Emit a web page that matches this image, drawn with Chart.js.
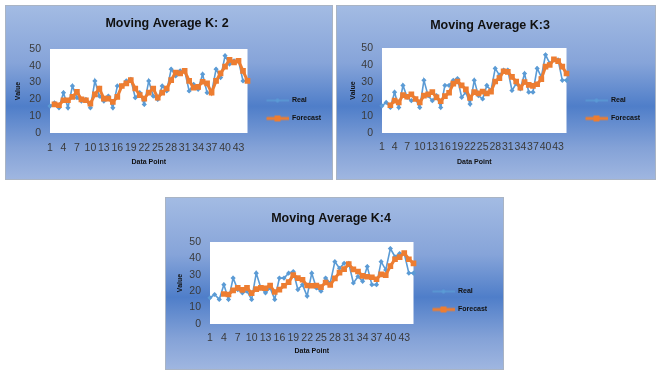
<!DOCTYPE html>
<html>
<head>
<meta charset="utf-8">
<script src="https://cdn.jsdelivr.net/npm/chart.js@4"></script>
<style>
    body { margin: 0; background: #fff; width: 662px; height: 376px; position: relative; overflow: hidden; }
    .panel {
        position: absolute;
        box-sizing: border-box;
        border: 1px solid #a9b4c4;
        background: linear-gradient(to bottom, #a3bbe3 0%, #86a4d9 33%, #4f7ec9 58%, #84a2d7 82%, #9fb6e0 100%);
    }
    .panel canvas { position: absolute; left: 0; top: 0; }
</style>
</head>
<body>
<div class="panel" style="left:5px;top:5px;width:328px;height:175px;"><canvas id="chartK2" width="326" height="173"></canvas></div>
<div class="panel" style="left:336px;top:5px;width:320px;height:175px;"><canvas id="chartK3" width="318" height="173"></canvas></div>
<div class="panel" style="left:165px;top:197px;width:339px;height:173px;"><canvas id="chartK4" width="337" height="171"></canvas></div>
<script>
    // 데이터 포인트 (1..45)
    var pointLabels = [1, 2, 3, 4, 5, 6, 7, 8, 9, 10, 11, 12, 13, 14, 15, 16, 17, 18, 19, 20,
        21, 22, 23, 24, 25, 26, 27, 28, 29, 30, 31, 32, 33, 34, 35, 36, 37, 38, 39, 40,
        41, 42, 43, 44, 45];

    var realValues = [16, 18, 15, 24, 15, 28, 21, 19, 20, 15, 31, 22, 19, 22, 15, 28, 28, 31, 32, 21,
        24, 17, 31, 22, 20, 28, 25, 38, 34, 37, 37, 25, 29, 26, 35, 24, 24, 38, 33, 46,
        41, 43, 43, 31, 31];

    var forecastK2 = [null, 17, 16.5, 19.5, 19.5, 21.5, 24.5, 20, 19.5, 17.5, 23, 26.5, 20.5, 20.5, 18.5,
        21.5, 28, 29.5, 31.5, 26.5, 22.5, 20.5, 24, 26.5, 21, 24, 26.5, 31.5, 36, 35.5,
        37, 31, 27, 27.5, 30.5, 29.5, 24, 31, 35.5, 39.5, 43.5, 42, 43, 37, 31];

    var forecastK3 = [null, null, 16.3, 19, 18, 22.3, 21.3, 22.7, 20, 18, 22, 22.7, 24, 21, 18.7,
        21.7, 23.7, 29, 30.3, 28, 25.7, 20.7, 24, 23.3, 24.3, 23.3, 24.3, 30.3, 32.3, 36.3,
        36, 33, 30.3, 26.7, 30, 28.3, 27.7, 28.7, 31.7, 39, 40, 43.3, 42.3, 39, 35];

    var forecastK4 = [null, null, null, 18.3, 18, 20.5, 22, 20.8, 22, 18.8, 21.3, 22, 21.8, 23.5, 19.5,
        21, 23.3, 25.5, 29.8, 28, 27, 23.5, 23.3, 23.5, 22.5, 25.3, 23.8, 27.8, 31.3, 33.5,
        36.5, 33.3, 32, 29.3, 28.8, 28.5, 27.3, 30.3, 29.8, 35.3, 39.5, 40.8, 43.3, 39.5, 37];

    var chartTitles = ['Moving Average K: 2', 'Moving Average K:3', 'Moving Average K:4'];
    var seriesNames = ['Real', 'Forecast'];
    var yTicks = [0, 10, 20, 30, 40, 50];

    var realColor = '#5b9bd5';
    var forecastColor = '#ed7d31';

    Chart.defaults.font.family = '"Liberation Sans", Arial, sans-serif';
    Chart.defaults.color = '#333';

    // 플롯 영역 흰색 배경
    var plotAreaFill = {
        id: 'plotAreaFill',
        beforeDraw: function (chart) {
            var a = chart.chartArea;
            var ctx = chart.ctx;
            ctx.save();
            ctx.fillStyle = '#ffffff';
            ctx.fillRect(a.left, a.top, a.right - a.left, a.bottom - a.top);
            ctx.restore();
        },
    };

    // 범례 아이콘 (선 + 마커)
    function makeLegendIcon(color, lineWidth, marker) {
        var c = document.createElement('canvas');
        c.width = 30;
        c.height = 10;
        var g = c.getContext('2d');
        g.strokeStyle = color;
        g.lineWidth = lineWidth;
        g.beginPath();
        g.moveTo(8, 5);
        g.lineTo(30, 5);
        g.stroke();
        g.fillStyle = color;
        if (marker === 'square') {
            g.fillRect(16, 2, 6, 6);
        } else {
            g.beginPath();
            g.moveTo(19, 2.5);
            g.lineTo(21.5, 5);
            g.lineTo(19, 7.5);
            g.lineTo(16.5, 5);
            g.closePath();
            g.fill();
        }
        return c;
    }
    var legendIcons = [
        makeLegendIcon(realColor, 1.5, 'diamond'),
        makeLegendIcon(forecastColor, 3, 'square'),
    ];

    function createChart(canvasId, title, forecast, lay) {
        var ctx = document.getElementById(canvasId).getContext('2d');
        return new Chart(ctx, {
            type: 'line',
            data: {
                labels: pointLabels,
                datasets: [
                    {
                        label: seriesNames[0],
                        data: realValues,
                        borderColor: realColor,
                        backgroundColor: realColor,
                        borderWidth: 1.6,
                        pointStyle: 'rectRot',
                        pointRadius: 2.6,
                        pointBorderWidth: 0,
                        tension: 0,
                        order: 1,
                    },
                    {
                        label: seriesNames[1],
                        data: forecast,
                        borderColor: forecastColor,
                        backgroundColor: forecastColor,
                        borderWidth: 3,
                        pointStyle: 'rect',
                        pointRadius: 4,
                        pointBorderWidth: 0,
                        tension: 0,
                        order: 0,
                    },
                ],
            },
            options: {
                responsive: false,
                animation: false,
                events: [],
                layout: {
                    padding: { left: 0, right: lay.padRight, top: 0, bottom: 0 },
                },
                scales: {
                    x: {
                        grid: { display: false, drawTicks: false },
                        border: { display: false },
                        ticks: {
                            autoSkip: false,
                            maxRotation: 0,
                            minRotation: 0,
                            padding: lay.xTickPad,
                            color: '#3a3a3a',
                            font: { size: 10.5 },
                            callback: function (value, index) {
                                return index % 3 === 0 ? pointLabels[index] : '';
                            },
                        },
                        title: {
                            display: true,
                            text: 'Data Point',
                            color: '#111',
                            font: { size: 7, weight: 'bold' },
                            padding: { top: 0, bottom: lay.xTitlePad },
                        },
                        afterFit: function (scale) {
                            scale.height = lay.xHeight;
                        },
                    },
                    y: {
                        min: 0,
                        max: 50,
                        afterBuildTicks: function (scale) {
                            scale.ticks = yTicks.map(function (v) { return { value: v }; });
                        },
                        grid: { display: false, drawTicks: false },
                        border: { display: false },
                        ticks: {
                            padding: 9,
                            color: '#3a3a3a',
                            font: { size: 10.5 },
                        },
                        title: {
                            display: true,
                            text: 'Value',
                            color: '#111',
                            font: { size: 7, weight: 'bold' },
                            padding: { top: lay.yTitlePad, bottom: 0 },
                        },
                        afterFit: function (scale) {
                            scale.width = lay.yWidth;
                        },
                    },
                },
                plugins: {
                    title: {
                        display: true,
                        text: title,
                        color: '#111',
                        font: { size: 12.5, weight: 'bold' },
                        padding: { top: lay.titleTop, bottom: lay.titleBottom },
                    },
                    legend: {
                        position: 'right',
                        align: 'end',
                        fullSize: false,
                        labels: {
                            usePointStyle: true,
                            pointStyleWidth: 30,
                            padding: 11,
                            color: '#111',
                            font: { size: 7, weight: 'bold' },
                            sort: function (a, b) {
                                return a.datasetIndex - b.datasetIndex;
                            },
                            generateLabels: function (chart) {
                                var items = Chart.defaults.plugins.legend.labels.generateLabels(chart);
                                items.forEach(function (item) {
                                    item.pointStyle = legendIcons[item.datasetIndex];
                                });
                                return items;
                            },
                        },
                    },
                    tooltip: { enabled: false },
                },
            },
            plugins: [plotAreaFill],
        });
    }

    createChart('chartK2', chartTitles[0], forecastK2, {
        padRight: 4, titleTop: 10, titleBottom: 18, yWidth: 44, yTitlePad: 8,
        xHeight: 46, xTickPad: 9, xTitlePad: 13,
    });
    createChart('chartK3', chartTitles[1], forecastK3, {
        padRight: 12, titleTop: 12, titleBottom: 15, yWidth: 45, yTitlePad: 12,
        xHeight: 46, xTickPad: 8, xTitlePad: 13,
    });
    createChart('chartK4', chartTitles[2], forecastK4, {
        padRight: 7, titleTop: 13, titleBottom: 16, yWidth: 44, yTitlePad: 10,
        xHeight: 45, xTickPad: 8, xTitlePad: 14,
    });
</script>
</body>
</html>
